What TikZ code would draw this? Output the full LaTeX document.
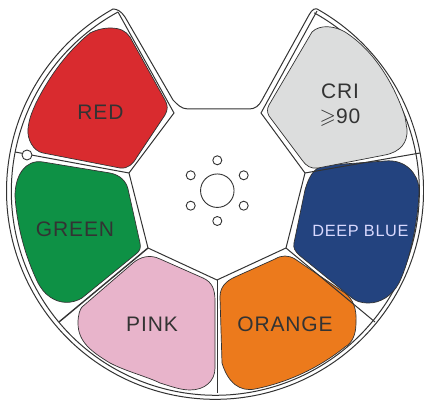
\documentclass[tikz,border=0pt]{standalone}
\usepackage{amssymb}
\usepackage{fontspec}
\setmainfont{Liberation Sans}
\newfontfamily\tagfont[LetterSpace=4]{Liberation Sans}
\definecolor{ink}{HTML}{333333}
\definecolor{redfill}{HTML}{D92B2F}
\definecolor{greenfill}{HTML}{0E9145}
\definecolor{pinkfill}{HTML}{E8B4CB}
\definecolor{orangefill}{HTML}{EC7A1C}
\definecolor{bluefill}{HTML}{23437F}
\definecolor{grayfill}{HTML}{DCDDDD}
\begin{document}
\begin{tikzpicture}[
        x=1pt, y=1pt,
        petal/.style={draw=ink, line width=0.7pt},
        rim/.style={draw=ink, line width=1pt},
        spoke/.style={draw=ink, line width=1pt},
        hole/.style={circle, draw=ink, line width=0.9pt, fill=white, minimum size=9pt, inner sep=0pt},
        tag/.style={font=\tagfont\fontsize{21}{24}\selectfont, text=ink, align=center, inner sep=0pt}
    ]
        \useasboundingbox (0,0) rectangle (424,401);

        % Hub points
        \coordinate (tl) at (118,389);
        \coordinate (tr) at (317,390);
        \coordinate (nl) at (174,288);
        \coordinate (nr) at (261,288);
        \coordinate (vrg) at (129,228);
        \coordinate (vgp) at (148,153);
        \coordinate (vpo) at (217,121);
        \coordinate (vob) at (286,153);
        \coordinate (vbc) at (305,228);
        \coordinate (erg) at (15,249);
        \coordinate (egp) at (59,79);
        \coordinate (epo) at (217,8);
        \coordinate (eob) at (375,79);
        \coordinate (ebc) at (420,248);

        % Outline
        \draw[rim] (113,392) arc[start angle=119.3, end angle=420, radius=208.5]
            .. controls (316,394) and (312,392) .. (309,386)
            -- (262,301) .. controls (259,295) and (255,292) .. (249,292)
            -- (188,292) .. controls (181,292) and (177,297) .. (173,301)
            -- (125,384) .. controls (121,390) and (117,392) .. cycle;
        \draw[rim] (tl) arc[start angle=118.5, end angle=421, radius=204];

        % Petals
        \fill[petal, fill=redfill] (130,364) -- (165,301)
            .. controls (168,296) and (168,291) .. (165,286) -- (137,244)
            .. controls (133,237) and (128,232) .. (120,233) -- (43,248)
            .. controls (33,250) and (27,262) .. (28,272)
            .. controls (29,283) and (33,291) .. (36,298)
            .. controls (50,326) and (68,350) .. (90,368)
            .. controls (98,372) and (105,373) .. (110,373)
            .. controls (120,373) and (126,370) .. cycle;
        \fill[petal, fill=greenfill] (43,239) -- (110,228)
            .. controls (120,226) and (126,220) .. (128,212) -- (140,158)
            .. controls (141,153) and (140,150) .. (136,147) -- (82,103)
            .. controls (72,97) and (60,97) .. (50,104)
            .. controls (44,108) and (41,113) .. (38,118)
            .. controls (25,145) and (17,175) .. (15,205)
            .. controls (15,225) and (25,242) .. cycle;
        \fill[petal, fill=pinkfill] (82,94) -- (133,138)
            .. controls (140,144) and (150,147) .. (160,142) -- (203,123)
            .. controls (212,119) and (215,112) .. (215,100) -- (215,33)
            .. controls (215,20) and (205,11) .. (190,11)
            .. controls (180,11) and (170,15) .. (160,18)
            .. controls (148,24) and (125,30) .. (110,38)
            .. controls (90,50) and (78,60) .. (78,78)
            .. controls (78,86) and (80,92) .. cycle;
        \fill[petal, fill=orangefill] (235,124) -- (275,142)
            .. controls (282,146) and (288,146) .. (295,142) -- (345,108)
            .. controls (353,102) and (357,92) .. (356,78)
            .. controls (356,66) and (352,58) .. (345,54)
            .. controls (325,38) and (295,20) .. (255,12)
            .. controls (240,9) and (228,18) .. (222,38) -- (220,104)
            .. controls (220,114) and (226,120) .. cycle;
        \fill[petal, fill=bluefill] (305,211)
            .. controls (310,228) and (316,236) .. (330,236) -- (385,240)
            .. controls (405,242) and (418,228) .. (419,212)
            .. controls (419,185) and (410,140) .. (399,118)
            .. controls (392,105) and (380,98) .. (369,98)
            .. controls (360,98) and (356,100) .. (352,103) -- (299,146)
            .. controls (295,150) and (293,153) .. (294,158) -- cycle;
        \fill[petal, fill=grayfill] (312,369) -- (269,296)
            .. controls (267,292) and (267,289) .. (269,285) -- (302,241)
            .. controls (306,235) and (311,232) .. (318,233) -- (385,246)
            .. controls (400,249) and (408,258) .. (407,272)
            .. controls (406,276) and (406,280) .. (405,284)
            .. controls (395,315) and (375,350) .. (345,369)
            .. controls (335,375) and (320,377) .. cycle;

        % Spokes
        \draw[spoke] (tl) -- (nl) -- (vrg) -- (vgp) -- (vpo) -- (vob) -- (vbc) -- (nr) -- (tr);
        \draw[spoke] (vrg) -- (erg);
        \draw[spoke, line width=1.4pt] (vgp) -- (egp);
        \draw[spoke] (vpo) -- (epo);
        \draw[spoke] (vob) -- (eob);
        \draw[spoke] (vbc) -- (ebc);

        % Small holes
        \node[hole, minimum size=10pt] (notch) at (27,246) {};
        \node[hole, minimum size=33.5pt] (hub) at (217.3,210.3) {};
        \node[hole] (h1) at (217.3,240.7) {};
        \node[hole] (h2) at (190.7,225.7) {};
        \node[hole] (h3) at (243.7,225.7) {};
        \node[hole] (h4) at (190.7,195.3) {};
        \node[hole] (h5) at (243.7,195.3) {};
        \node[hole] (h6) at (217.3,180) {};

        % Labels
        \node[tag] (red) at (100.5,289) {RED};
        \node[tag] (green) at (75,172) {GREEN};
        \node[tag] (pink) at (152,77) {PINK};
        \node[tag] (orange) at (285,77) {ORANGE};
        \node[tag, font=\tagfont\fontsize{16.3}{20}\selectfont, text=white!85!blue] (blue) at (360.5,170) {DEEP BLUE};
        \node[tag, font=\tagfont\fontsize{21}{25}\selectfont] (cri) at (340,295.5) {CRI\\$\geqslant$90};
    \end{tikzpicture}
\end{document}
